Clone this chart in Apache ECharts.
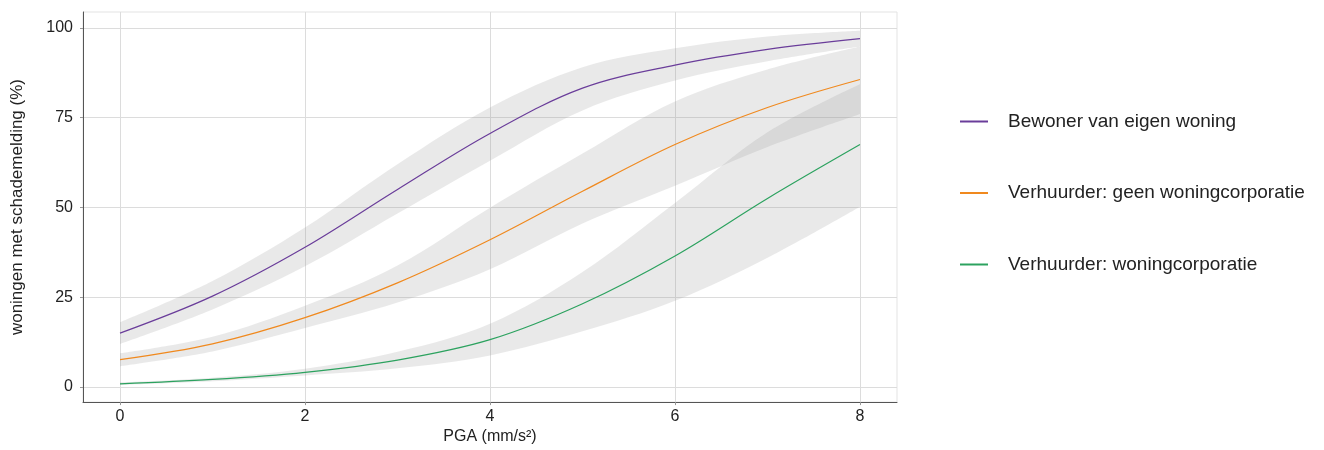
<!DOCTYPE html>
<html>
<head>
<meta charset="utf-8">
<script src="https://cdn.jsdelivr.net/npm/echarts@6/dist/echarts.min.js"></script>
<style>html,body{margin:0;padding:0;background:#fff;}#c{width:1324px;height:450px;}</style>
</head>
<body>
<div id="c"></div>
<script>
// PGA values (mm/s^2)
const pga = [0, 1, 2, 3, 4, 5, 6, 7, 8];
const xTicks = [0, 2, 4, 6, 8];
const yTicks = [0, 25, 50, 75, 100];

const seriesNames = ['Bewoner van eigen woning', 'Verhuurder: geen woningcorporatie', 'Verhuurder: woningcorporatie'];

// Bewoner van eigen woning
const eigenMean  = [15.0, 25.3, 38.9, 55.0, 70.6, 83.2, 89.6, 94.0, 97.0];
const eigenLower = [12.0, 21.6, 33.6, 48.3, 63.0, 77.0, 85.3, 90.7, 94.8];
const eigenUpper = [18.0, 29.5, 44.4, 62.0, 77.8, 89.0, 94.3, 97.6, 99.2];

// Verhuurder: geen woningcorporatie
const geenMean  = [7.6, 12.0, 19.3, 29.0, 41.0, 54.5, 67.5, 77.8, 85.6];
const geenLower = [5.8, 9.9, 16.4, 23.5, 32.8, 45.5, 56.0, 66.8, 76.0];
const geenUpper = [9.4, 14.0, 22.6, 33.8, 49.9, 65.0, 79.5, 88.4, 94.8];

// Verhuurder: woningcorporatie
const corpMean  = [0.9, 2.1, 4.1, 7.5, 13.2, 23.2, 36.5, 52.5, 67.5];
const corpLower = [0.6, 1.6, 3.2, 5.2, 8.8, 15.5, 24.0, 36.0, 50.2];
const corpUpper = [1.3, 2.6, 5.1, 9.8, 17.6, 32.0, 51.2, 70.9, 84.3];

const colors = ['#6a3d9a', '#f0891e', '#2ca25f'];
const groups = [
  {mean: eigenMean, lower: eigenLower, upper: eigenUpper},
  {mean: geenMean, lower: geenLower, upper: geenUpper},
  {mean: corpMean, lower: corpLower, upper: corpUpper}
];

// rows as [y, x] so that stacking happens on the y value
const rowsYX = arr => pga.map((x, i) => [arr[i], x]);
const SMOOTH = 0.35;

const series = [];
groups.forEach((g, k) => {
  series.push({
    type: 'line', name: 'lower' + k, stack: 'band' + k, data: rowsYX(g.lower),
    encode: {x: 1, y: 0},
    symbol: 'none', smooth: SMOOTH, silent: true,
    lineStyle: {opacity: 0}, z: 1
  });
  series.push({
    type: 'line', name: 'band' + k, stack: 'band' + k,
    data: pga.map((x, i) => [g.upper[i] - g.lower[i], x]),
    encode: {x: 1, y: 0},
    symbol: 'none', smooth: SMOOTH, silent: true,
    lineStyle: {opacity: 0},
    areaStyle: {color: 'rgba(153,153,153,0.22)', opacity: 1}, z: 1
  });
});
groups.forEach((g, k) => {
  series.push({
    type: 'line', name: seriesNames[k], data: rowsYX(g.mean),
    encode: {x: 1, y: 0},
    symbol: 'none', smooth: SMOOTH,
    color: colors[k],
    lineStyle: {color: colors[k], width: 1.2}, z: 3
  });
});

const font = '"Liberation Sans", Arial, sans-serif';
const chart = echarts.init(document.getElementById('c'), null, {renderer: 'canvas'});
chart.setOption({
  animation: false,
  backgroundColor: '#ffffff',
  grid: {left: 83, right: 427, top: 12, bottom: 45, show: true, borderColor: '#e3e3e3', borderWidth: 1, backgroundColor: 'transparent'},
  legend: {
    data: seriesNames,
    orient: 'vertical', left: 960, top: 112, padding: 0,
    icon: 'rect', itemWidth: 28, itemHeight: 2, itemGap: 52.5,
    textStyle: {fontFamily: font, fontSize: 19, color: '#222', padding: [0, 0, 0, 15]}
  },
  xAxis: {
    type: 'value', min: -0.4, max: 8.4,
    name: 'PGA (mm/s²)', nameLocation: 'middle', nameGap: 17,
    nameTextStyle: {fontFamily: font, fontSize: 16, color: '#222'},
    axisLine: {show: true, onZero: false, lineStyle: {color: '#555', width: 1}},
    axisTick: {show: true, length: 3, customValues: xTicks, lineStyle: {color: '#999'}},
    axisLabel: {customValues: xTicks, fontFamily: font, fontSize: 16, color: '#222', margin: 6},
    splitLine: {show: true, lineStyle: {color: '#dcdcdc', width: 1}}
  },
  yAxis: {
    type: 'value', min: -4.2, max: 104.4,
    name: 'woningen met schademelding (%)', nameLocation: 'middle', nameGap: 57, nameRotate: 90,
    nameTextStyle: {fontFamily: font, fontSize: 17, color: '#222'},
    axisLine: {show: true, onZero: false, lineStyle: {color: '#555', width: 1}},
    axisTick: {show: true, length: 3, customValues: yTicks, lineStyle: {color: '#999'}},
    axisLabel: {customValues: yTicks, fontFamily: font, fontSize: 16, color: '#222', margin: 10},
    splitLine: {show: true, lineStyle: {color: '#dcdcdc', width: 1}}
  },
  series: series
});
</script>
</body>
</html>
